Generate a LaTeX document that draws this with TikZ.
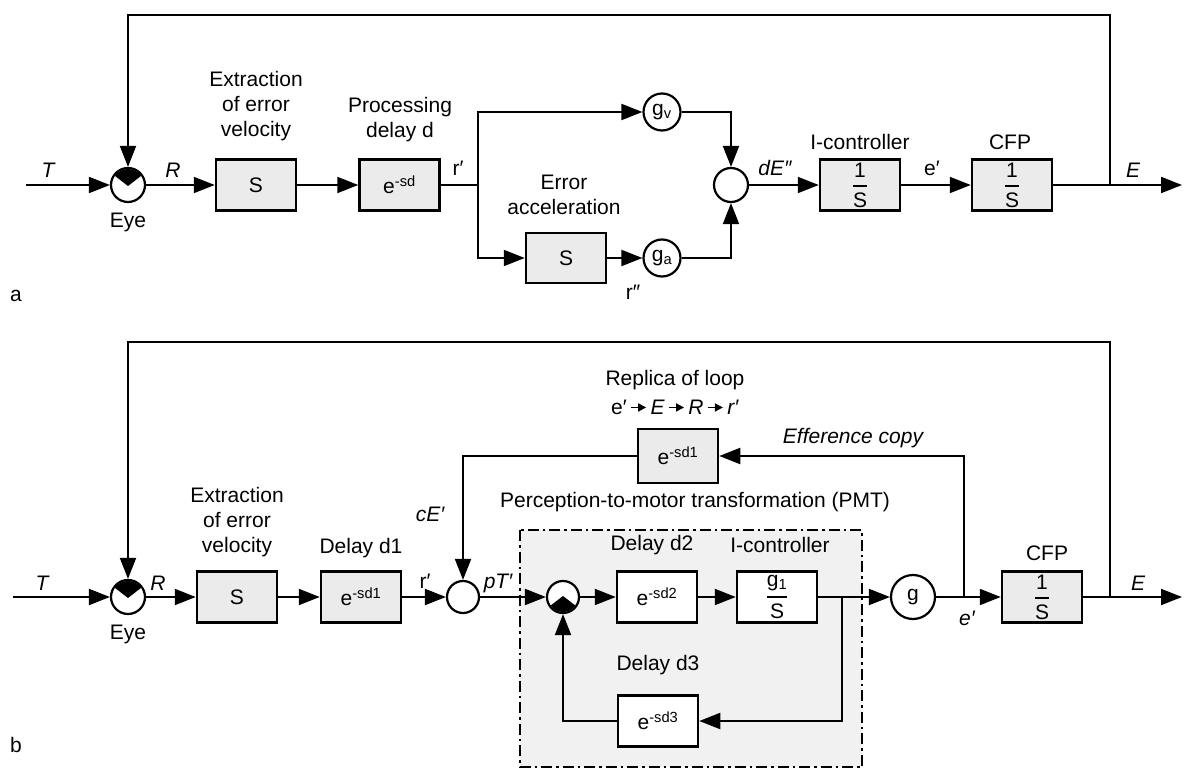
\documentclass[tikz,border=0pt]{standalone}
\usepackage{fontspec}
\setmainfont{Liberation Sans}
\usepackage{amsmath}
\usetikzlibrary{arrows.meta,calc}
\definecolor{boxgray}{HTML}{EBEBEB}
\definecolor{pmtgray}{HTML}{F1F1F1}
\newcommand\lab{\fontsize{21}{25}\selectfont}
\newcommand\fr[2]{$\genfrac{}{}{1.8pt}{0}{\mbox{#1}}{\mbox{#2}}$}
\newcommand\smallarr{\,\tikz[baseline=-0.6ex]\draw[line width=1.7pt,-{Triangle[length=8pt,width=8pt]}] (0pt,0pt) -- (15pt,0pt);\,}
\newcommand\topwedge[1]{%
  \begin{scope}
    \clip (#1) circle (16pt);
    \fill ($(#1)+(-25,-25)$) -- ($(#1)+(25,-25)$) -- ($(#1)+(25,-18.3)$) -- ($(#1)+(0,1)$) -- ($(#1)+(-25,-18.3)$) -- cycle;
  \end{scope}}
\newcommand\botwedge[1]{%
  \begin{scope}
    \clip (#1) circle (15pt);
    \fill ($(#1)+(-25,25)$) -- ($(#1)+(25,25)$) -- ($(#1)+(25,18.3)$) -- ($(#1)+(0,-1)$) -- ($(#1)+(-25,18.3)$) -- cycle;
  \end{scope}}
\begin{document}
\begin{tikzpicture}[x=1pt,y=-1pt,
  line width=2pt,
  >={Triangle[length=21pt,width=16pt]},
  box/.style={draw,line width=2.5pt,fill=boxgray,minimum width=80pt,minimum height=51pt,inner sep=0pt,font=\lab},
  wbox/.style={box,fill=white},
  sumc/.style={circle,draw,line width=2.2pt,fill=white,minimum size=34pt,inner sep=0pt,font=\lab},
  lbl/.style={inner sep=0pt,font=\lab,align=center},
  ilbl/.style={inner sep=0pt,font=\lab\itshape,align=center},
  pmt/.style={line width=2pt,dash pattern=on 11pt off 4pt on 2.5pt off 4pt,fill=pmtgray}
]
\useasboundingbox (0,0) rectangle (1187,770);

% ---------------- panel a ----------------
\node[sumc] (eyeA) at (128,185) {};
\node[box] (sA) at (256,185) {S};
\node[box] (dA) at (399.5,185) {e\textsuperscript{-sd}};
\coordinate (brA) at (478,185);
\node[sumc,minimum size=37pt] (gv) at (662,112) {g\textsubscript{v}};
\node[box,minimum height=50pt] (accA) at (566,258) {S};
\node[sumc,minimum size=37pt] (ga) at (662,258) {g\textsubscript{a}};
\node[sumc] (sumA) at (731,185) {};
\node[box] (iA) at (860,185) {\fr{1}{S}};
\node[box] (cfpA) at (1012,185) {\fr{1}{S}};
\coordinate (tinA) at (26,185);
\coordinate (brEA) at (1110,185);
\coordinate (endA) at (1182,185);
\coordinate (topA) at (1110,15);

\draw[->] (tinA) -- (eyeA);
\draw[->] (eyeA) -- (sA);
\draw[->] (sA) -- (dA);
\draw (dA) -- (brA);
\draw[->] (brA) |- (gv);
\draw[->] (brA) |- (accA);
\draw[->] (accA) -- (ga);
\draw[->] (gv) -| (sumA);
\draw[->] (ga) -| (sumA);
\draw[->] (sumA) -- (iA);
\draw[->] (iA) -- (cfpA);
\draw[->] (cfpA) -- (endA);
\draw[->] (brEA) -- (topA) -| (eyeA);
\topwedge{eyeA}

\node[ilbl] at (48,170) {T};
\node[ilbl] at (173,170) {R};
\node[lbl] at (128,222) {Eye};
\node[lbl] at (256,106) {Extraction\\of error\\velocity};
\node[lbl] at (400,120) {Processing\\delay d};
\node[lbl] at (458,168) {r′};
\node[lbl] at (564,195) {Error\\acceleration};
\node[lbl] at (633,292) {r″};
\node[ilbl] at (775,168) {dE″};
\node[lbl] at (860,142) {I-controller};
\node[lbl] at (932,168) {e′};
\node[lbl] at (1010,142) {CFP};
\node[ilbl] at (1133,170) {E};
\node[lbl] at (16,296) {a};

% ---------------- panel b ----------------
\draw[pmt] (520,530) rectangle (862,767);
\node[sumc] (eyeB) at (128,597) {};
\node[box] (sB) at (237,597) {S};
\node[box] (d1B) at (361,597) {e\textsuperscript{-sd1}};
\node[sumc,minimum size=32pt] (sumB) at (463,597) {};
\node[sumc,minimum size=32pt] (jB) at (563,597) {};
\node[wbox] (d2B) at (657,597) {e\textsuperscript{-sd2}};
\node[wbox] (gB) at (777,597) {\fr{g\textsubscript{1}}{S}};
\coordinate (brB) at (842,597);
\node[wbox] (d3B) at (658,721) {e\textsuperscript{-sd3}};
\node[sumc,minimum size=44pt] (gC) at (913,597) {g};
\coordinate (ebr) at (964,597);
\node[box] (cfpB) at (1042,597) {\fr{1}{S}};
\coordinate (brEB) at (1110,597);
\coordinate (endB) at (1182,597);
\coordinate (topB) at (1110,342);
\coordinate (tinB) at (13,597);
\node[box,minimum height=54pt] (repB) at (678,456) {e\textsuperscript{-sd1}};

\draw[->] (tinB) -- (eyeB);
\draw[->] (eyeB) -- (sB);
\draw[->] (sB) -- (d1B);
\draw[->] (d1B) -- (sumB);
\draw[->] (sumB) -- (jB);
\draw[->] (jB) -- (d2B);
\draw[->] (d2B) -- (gB);
\draw (gB) -- (brB);
\draw[->] (brB) -- (gC);
\draw[->] (brB) |- (d3B);
\draw[->] (d3B) -| (jB);
\draw[->] (gC) -- (cfpB);
\draw[->] (ebr) |- (repB);
\draw[->] (repB) -| (sumB);
\draw[->] (cfpB) -- (endB);
\draw[->] (brEB) -- (topB) -| (eyeB);
\topwedge{eyeB}
\botwedge{jB}

\node[ilbl] at (42,583) {T};
\node[ilbl] at (158,583) {R};
\node[lbl] at (128,634) {Eye};
\node[lbl] at (237,522) {Extraction\\of error\\velocity};
\node[lbl] at (361,548) {Delay d1};
\node[lbl] at (425,581) {r′};
\node[ilbl] at (430,514) {cE′};
\node[ilbl] at (498,583) {pT′};
\node[lbl] at (695,502) {Perception-to-motor transformation (PMT)};
\node[lbl] at (652,545) {Delay d2};
\node[lbl] at (780,545) {I-controller};
\node[lbl] at (658,665) {Delay d3};
\node[lbl] at (675,380) {Replica of loop};
\node[lbl] at (675,407) {e′\smallarr\textit{E}\smallarr\textit{R}\smallarr\textit{r′}};
\node[ilbl] at (853,438) {Efference copy};
\node[ilbl] at (967,618) {e′};
\node[lbl] at (1047,553) {CFP};
\node[ilbl] at (1138,583) {E};
\node[lbl] at (16,745) {b};
\end{tikzpicture}
\end{document}
